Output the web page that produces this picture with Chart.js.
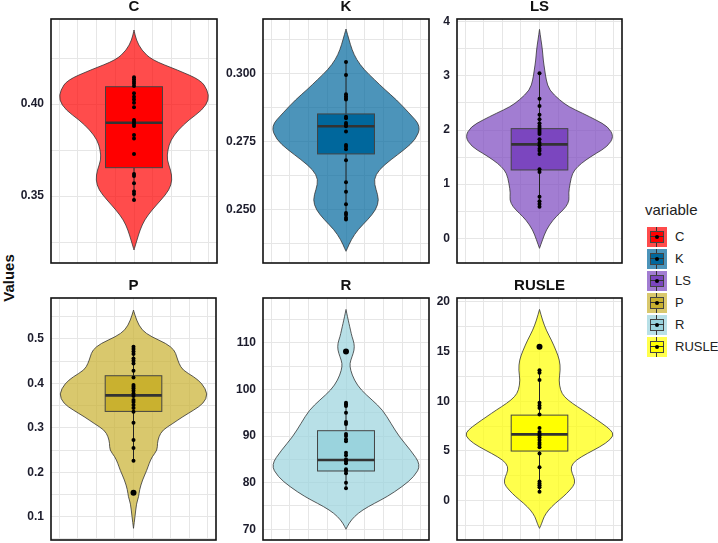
<!DOCTYPE html>
<html>
<head>
<meta charset="utf-8">
<script src="https://cdn.jsdelivr.net/npm/chart.js@4.4.1/dist/chart.umd.min.js"></script>
<style>
  body { margin: 0; background: #fff; }
  #wrap { position: relative; width: 718px; height: 543px; background: #fff; overflow: hidden;
          font-family: "Liberation Sans", Arial, sans-serif; }
  #wrap canvas { position: absolute; }
  .ylab { position: absolute; left: -16px; top: 268px; width: 50px; height: 20px; line-height: 20px;
          text-align: center; font-weight: bold; font-size: 15px; color: #111; transform: rotate(-90deg); }
  .legTitle { position: absolute; left: 645px; top: 201px; font-size: 15px; line-height: 17px; color: #222; }
  .legItem { position: absolute; left: 647px; width: 20px; height: 20px; }
  .legBox { position: absolute; left: 3px; top: 4px; width: 12px; height: 10px; border: 1px solid #444; }
  .legV { position: absolute; left: 9px; top: 0; width: 1px; height: 20px; background: #333; }
  .legM { position: absolute; left: 3px; top: 9px; width: 14px; height: 1px; background: #333; }
  .legDot { position: absolute; left: 8px; top: 8px; width: 4px; height: 4px; border-radius: 2px; background: #000; }
  .legText { position: absolute; left: 675px; font-size: 13px; line-height: 20px; color: #222; }
</style>
</head>
<body>
<div id="wrap">
  <div class="ylab">Values</div>
  <div class="legTitle">variable</div>
</div>
<script>
// facets
const facetNames = ['C', 'K', 'LS', 'P', 'R', 'RUSLE'];
const baseColors = ['#FF0000', '#00679C', '#7B46BF', '#C9B12F', '#9AD3DD', '#FFFF00'];
const violinColors = ['rgba(255,0,0,0.7)', 'rgba(0,103,156,0.7)', 'rgba(123,70,191,0.7)',
                      'rgba(201,177,47,0.7)', 'rgba(154,211,221,0.7)', 'rgba(255,255,0,0.7)'];

// violin outlines: value along the axis, relative half width (1 = widest)
const cDensY = [0.4402,0.4348,0.4293,0.4239,0.4185,0.4130,0.4076,0.4022,0.3967,0.3913,0.3859,0.3804,0.3750,0.3696,0.3641,0.3587,0.3533,0.3478,0.3424,0.3370,0.3315,0.3261,0.3207];
const cDensW = [0,0.03,0.1,0.24,0.58,0.89,0.98,1,0.91,0.73,0.59,0.49,0.45,0.44,0.49,0.51,0.47,0.36,0.24,0.14,0.08,0.04,0];
const kDensY = [0.3165,0.3126,0.3089,0.3053,0.3016,0.2979,0.2942,0.2906,0.2857,0.2808,0.2759,0.2722,0.2685,0.2648,0.2612,0.2575,0.2538,0.2501,0.2464,0.2428,0.2391,0.2354,0.2348];
const kDensW = [0,0.04,0.08,0.14,0.24,0.38,0.52,0.67,0.84,1,0.93,0.78,0.6,0.44,0.37,0.4,0.44,0.4,0.29,0.16,0.07,0.01,0];
const lsDensY = [3.858,3.662,3.477,3.292,3.108,2.923,2.738,2.554,2.431,2.308,2.185,2.062,1.877,1.692,1.569,1.446,1.323,1.2,1.015,0.831,0.708,0.585,0.462,0.338,0.154,-0.031,-0.185];
const lsDensW = [0,0.02,0.04,0.05,0.07,0.09,0.13,0.27,0.39,0.58,0.76,0.92,1,0.91,0.76,0.62,0.51,0.44,0.41,0.39,0.4,0.36,0.27,0.18,0.09,0.04,0];
const pDensY = [0.565,0.5425,0.52,0.505,0.49,0.475,0.46,0.445,0.43,0.415,0.4,0.376,0.355,0.34,0.325,0.31,0.295,0.28,0.265,0.25,0.235,0.22,0.205,0.1825,0.16,0.145,0.13,0.1,0.0738];
const pDensW = [0,0.04,0.11,0.24,0.44,0.55,0.58,0.61,0.66,0.81,0.92,1,0.94,0.81,0.66,0.53,0.39,0.34,0.32,0.32,0.25,0.21,0.18,0.12,0.08,0.07,0.04,0.02,0];
const rDensY = [117.14,115.57,114.14,112.71,111.29,109.86,108.43,107.0,105.57,104.14,102.0,99.86,97.71,95.57,92.71,89.86,87.0,83.79,81.29,79.14,77.0,75.57,74.14,72.71,71.29,70.0];
const rDensW = [0,0.02,0.04,0.06,0.08,0.11,0.11,0.08,0.05,0.06,0.11,0.2,0.35,0.49,0.6,0.71,0.86,1,0.91,0.75,0.55,0.38,0.22,0.11,0.04,0];
const ruDensY = [19.22,18.15,17.14,16.14,15.13,14.13,13.12,12.12,11.11,10.45,9.78,9.11,8.44,7.77,7.10,6.53,5.76,5.09,4.42,3.75,3.08,2.41,1.74,1.07,0.40,-0.27,-0.94,-1.61,-2.28,-2.78];
const ruDensW = [0,0.04,0.09,0.16,0.22,0.27,0.28,0.26,0.28,0.33,0.44,0.58,0.71,0.84,0.96,1,0.89,0.73,0.56,0.44,0.42,0.46,0.48,0.41,0.32,0.21,0.12,0.06,0.03,0];

// observations
const cPoints = [0.4145,0.4134,0.4123,0.4112,0.4098,0.4058,0.404,0.4025,0.4007,0.3982,0.3913,0.3902,0.3891,0.388,0.3832,0.3813,0.3728,0.362,0.3609,0.3569,0.3524,0.3511,0.3478];
const kPoints = [0.3044,0.2996,0.2925,0.2918,0.2912,0.2906,0.2843,0.2837,0.282,0.2813,0.2808,0.2788,0.2739,0.2732,0.2723,0.2683,0.2602,0.2567,0.2521,0.2489,0.2482,0.2471,0.2465];
const lsPoints = [3.046,2.578,2.443,2.283,2.197,2.123,2.074,2.037,2.0,1.963,1.926,1.828,1.766,1.717,1.655,1.618,1.557,1.274,1.225,0.769,0.683,0.634,0.585];
const pPoints = [0.4825,0.4773,0.472,0.466,0.4563,0.451,0.445,0.4285,0.4135,0.3963,0.3925,0.3888,0.3835,0.3775,0.3715,0.3625,0.358,0.3513,0.3445,0.3363,0.3115,0.2725,0.2545,0.226,0.154];
const rPoints = [108.14,97.14,96.79,96.43,95.0,93.0,92.57,90.43,90.0,89.29,88.86,86.43,85.86,85.0,84.57,84.14,82.86,82.57,82.0,80.0,78.79];
const ruPoints = [15.47,13.12,12.86,12.12,9.84,9.57,9.31,8.67,7.30,6.90,6.70,6.56,6.36,6.09,5.83,5.62,5.36,4.75,3.35,1.94,1.74,1.54,1.34,0.90];

// boxplot stats
const boxQ1 = [0.3654, 0.2706, 1.262, 0.337, 82.5, 4.99];
const boxMedian = [0.3898, 0.2808, 1.735, 0.373, 84.86, 6.66];
const boxQ3 = [0.4094, 0.2853, 2.025, 0.4173, 91.14, 8.60];
const whiskerLow = [0.3478, 0.2465, 0.585, 0.226, 78.79, 0.90];
const whiskerHigh = [0.4145, 0.3044, 3.046, 0.4825, 97.14, 13.12];
const outliers = [[], [], [], [0.154], [108.14], [15.47]];

// axes
const yMin = [0.3136, 0.2305, -0.456, 0.0475, 67.7, -3.95];
const yMax = [0.4462, 0.3202, 4.05, 0.5923, 119.6, 20.37];
const tickValues = [[0.35, 0.40], [0.250, 0.275, 0.300], [0, 1, 2, 3, 4], [0.1, 0.2, 0.3, 0.4, 0.5], [70, 80, 90, 100, 110], [0, 5, 10, 15, 20]];
const tickLabels = [['0.35', '0.40'], ['0.250', '0.275', '0.300'], ['0', '1', '2', '3', '4'], ['0.1', '0.2', '0.3', '0.4', '0.5'], ['70', '80', '90', '100', '110'], ['0', '5', '10', '15', '20']];
const gridSteps = [0.025, 0.0125, 0.5, 0.05, 5, 2.5];

const densY = [cDensY, kDensY, lsDensY, pDensY, rDensY, ruDensY];
const densW = [cDensW, kDensW, lsDensW, pDensW, rDensW, ruDensW];
const points = [cPoints, kPoints, lsPoints, pPoints, rPoints, ruPoints];

// layout of the 2x3 facets (plot area in page pixels)
const panelRects = [
  { l: 51, t: 19, r: 217, b: 263 },
  { l: 263, t: 19, r: 429, b: 263 },
  { l: 457, t: 19, r: 622, b: 263 },
  { l: 51, t: 298, r: 216, b: 540 },
  { l: 263, t: 298, r: 429, b: 540 },
  { l: 457, t: 298, r: 622, b: 540 }
];
const X_RANGE = 4.43;
const VIOLIN_HALF = 4.0;
const BOX_HALF = 1.52;
const FONT = '"Liberation Sans", Arial, sans-serif';

const wrap = document.getElementById('wrap');

function smoothClosed(ctx, pts) {
  const n = pts.length;
  const mid = (a, b) => [(a[0] + b[0]) / 2, (a[1] + b[1]) / 2];
  const start = mid(pts[n - 1], pts[0]);
  ctx.moveTo(start[0], start[1]);
  for (let k = 0; k < n; k++) {
    const p = pts[k];
    const m = mid(p, pts[(k + 1) % n]);
    ctx.quadraticCurveTo(p[0], p[1], m[0], m[1]);
  }
  ctx.closePath();
}

function makePanel(i) {
  const r = panelRects[i];
  const w = r.r - r.l + 54;
  const h = r.b - r.t + 28;
  const cv = document.createElement('canvas');
  cv.width = w; cv.height = h;
  cv.style.left = (r.l - 50) + 'px';
  cv.style.top = (r.t - 24) + 'px';
  cv.style.width = w + 'px';
  cv.style.height = h + 'px';
  wrap.appendChild(cv);

  const grid = [];
  for (let v = Math.ceil(yMin[i] / gridSteps[i] - 1e-9) * gridSteps[i]; v <= yMax[i] + 1e-12; v += gridSteps[i]) {
    grid.push(+v.toFixed(6));
  }

  const violinPlugin = {
    id: 'violin' + i,
    beforeDatasetsDraw(chart) {
      const { ctx, chartArea: a } = chart;
      const x = chart.scales.x, y = chart.scales.y;
      ctx.save();
      ctx.beginPath();
      ctx.rect(a.left, a.top, a.right - a.left, a.bottom - a.top);
      ctx.clip();
      // violin
      const ys = densY[i], ws = densW[i];
      const right = ys.map((v, k) => [x.getPixelForValue(ws[k] * VIOLIN_HALF), y.getPixelForValue(v)]);
      const left = ys.map((v, k) => [x.getPixelForValue(-ws[k] * VIOLIN_HALF), y.getPixelForValue(v)]).reverse();
      ctx.beginPath();
      smoothClosed(ctx, right.concat(left));
      ctx.fillStyle = violinColors[i];
      ctx.fill();
      ctx.strokeStyle = '#333';
      ctx.lineWidth = 0.8;
      ctx.stroke();
      // whiskers
      const x0 = x.getPixelForValue(0);
      ctx.beginPath();
      ctx.moveTo(x0, y.getPixelForValue(whiskerHigh[i]));
      ctx.lineTo(x0, y.getPixelForValue(boxQ3[i]));
      ctx.moveTo(x0, y.getPixelForValue(boxQ1[i]));
      ctx.lineTo(x0, y.getPixelForValue(whiskerLow[i]));
      ctx.strokeStyle = '#222';
      ctx.lineWidth = 1;
      ctx.stroke();
      // box
      const bx1 = x.getPixelForValue(-BOX_HALF), bx2 = x.getPixelForValue(BOX_HALF);
      const by1 = y.getPixelForValue(boxQ3[i]), by2 = y.getPixelForValue(boxQ1[i]);
      ctx.fillStyle = baseColors[i];
      ctx.fillRect(bx1, by1, bx2 - bx1, by2 - by1);
      ctx.strokeStyle = '#444';
      ctx.lineWidth = 1;
      ctx.strokeRect(bx1, by1, bx2 - bx1, by2 - by1);
      const my = y.getPixelForValue(boxMedian[i]);
      ctx.beginPath();
      ctx.moveTo(bx1, my);
      ctx.lineTo(bx2, my);
      ctx.strokeStyle = '#333';
      ctx.lineWidth = 2.6;
      ctx.stroke();
      ctx.restore();
    },
    afterDraw(chart) {
      const { ctx, chartArea: a } = chart;
      ctx.save();
      ctx.strokeStyle = '#111';
      ctx.lineWidth = 1.6;
      ctx.strokeRect(a.left, a.top, a.right - a.left, a.bottom - a.top);
      // facet strip title, centred over the panel
      ctx.fillStyle = '#111';
      ctx.font = 'bold 15px ' + FONT;
      ctx.textAlign = 'center';
      ctx.textBaseline = 'middle';
      ctx.fillText(facetNames[i], (a.left + a.right) / 2, a.top - 12);
      ctx.restore();
    }
  };

  new Chart(cv.getContext('2d'), {
    type: 'scatter',
    data: {
      datasets: [
        {
          data: points[i].map(v => ({ x: 0, y: v })),
          pointRadius: 2,
          pointBackgroundColor: '#000',
          pointBorderWidth: 0
        },
        {
          data: outliers[i].map(v => ({ x: 0, y: v })),
          pointRadius: 3,
          pointBackgroundColor: '#000',
          pointBorderWidth: 0
        }
      ]
    },
    options: {
      responsive: false,
      animation: false,
      devicePixelRatio: 1,
      layout: { autoPadding: false, padding: { top: 24, left: 0, right: 4, bottom: 4 } },
      plugins: {
        legend: { display: false },
        tooltip: { enabled: false },
        title: { display: false }
      },
      scales: {
        x: {
          type: 'linear',
          min: -X_RANGE,
          max: X_RANGE,
          afterBuildTicks(scale) {
            scale.ticks = [-4, -3, -2, -1, 0, 1, 2, 3, 4].map(v => ({ value: v }));
          },
          afterFit(scale) { scale.height = 0; scale.paddingLeft = 0; scale.paddingRight = 0; },
          ticks: { display: false },
          border: { display: false },
          grid: { color: '#e6e6e6', lineWidth: 1, drawTicks: false }
        },
        y: {
          type: 'linear',
          min: yMin[i],
          max: yMax[i],
          afterBuildTicks(scale) {
            scale.ticks = grid.map(v => ({ value: v }));
          },
          afterFit(scale) { scale.width = 50; scale.paddingTop = 0; scale.paddingBottom = 0; },
          border: { display: false },
          grid: { color: '#e6e6e6', lineWidth: 1, drawTicks: false },
          ticks: {
            padding: 7,
            color: '#1c1c2c',
            font: { family: FONT, size: 12, weight: 'bold' },
            callback(value) {
              const k = tickValues[i].findIndex(t => Math.abs(t - value) < 1e-6);
              return k >= 0 ? tickLabels[i][k] : '';
            }
          }
        }
      }
    },
    plugins: [violinPlugin]
  });
}

for (let i = 0; i < facetNames.length; i++) makePanel(i);

// legend
const legTops = [227, 249, 271, 293, 315, 337];
facetNames.forEach((name, i) => {
  const item = document.createElement('div');
  item.className = 'legItem';
  item.style.top = legTops[i] + 'px';
  item.style.background = violinColors[i];
  item.innerHTML = '<div class="legV"></div><div class="legBox" style="background:' + baseColors[i] + '"></div>' +
                   '<div class="legM"></div><div class="legDot"></div>';
  wrap.appendChild(item);
  const txt = document.createElement('div');
  txt.className = 'legText';
  txt.style.top = legTops[i] + 'px';
  txt.textContent = name;
  wrap.appendChild(txt);
});
</script>
</body>
</html>
